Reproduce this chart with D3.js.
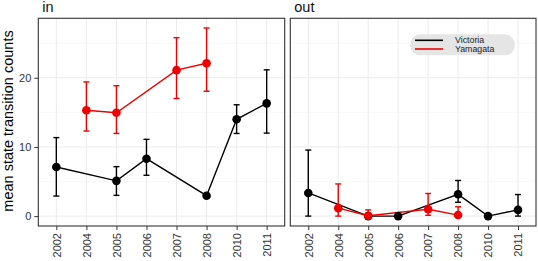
<!DOCTYPE html>
<html>
<head>
<meta charset="utf-8">
<script src="https://cdn.jsdelivr.net/npm/d3@7"></script>
<style>
  html, body { margin: 0; padding: 0; background: #fff; }
  svg { display: block; font-family: "Liberation Sans", Arial, Helvetica, sans-serif; }
</style>
</head>
<body>
<svg id="chart" width="538" height="261"></svg>
<script>
// ---- data ----
const years = ["2002", "2004", "2005", "2006", "2007", "2008", "2010", "2011"];
const yTicks = [0, 10, 20];
const yMinor = [5, 15, 25];
const panels = ["in", "out"];
const seriesNames = ["Victoria", "Yamagata"];

const victoriaYears = ["2002", "2005", "2006", "2008", "2010", "2011"];
const victoriaIn   = [7.1, 5.1, 8.3, 2.95, 14.0, 16.3];
const victoriaInLo = [2.9, 3.0, 5.9, 2.9, 11.95, 12.0];
const victoriaInHi = [11.35, 7.15, 11.1, 3.0, 16.1, 21.15];
const victoriaOut   = [3.35, 0, 0, 3.15, 0, 0.9];
const victoriaOutLo = [0, 0, 0, 2.0, 0, 0];
const victoriaOutHi = [9.55, 0, 0, 5.15, 0, 3.12];

const yamagataYears = ["2004", "2005", "2007", "2008"];
const yamagataIn   = [15.3, 14.95, 21.1, 22.1];
const yamagataInLo = [12.3, 11.95, 17.0, 18.05];
const yamagataInHi = [19.4, 18.85, 25.8, 27.2];
const yamagataOut   = [1.15, 0.05, 1.0, 0.15];
const yamagataOutLo = [0, 0, 0.12, 0];
const yamagataOutHi = [4.65, 0.9, 3.27, 1.35];

const colors = { Victoria: "#000000", Yamagata: "#ee0000" };

function rows(yrs, v, lo, hi) {
  return yrs.map((yr, i) => ({ year: yr, v: v[i], lo: lo[i], hi: hi[i] }));
}
const dataset = {
  in: { Victoria: rows(victoriaYears, victoriaIn, victoriaInLo, victoriaInHi),
        Yamagata: rows(yamagataYears, yamagataIn, yamagataInLo, yamagataInHi) },
  out: { Victoria: rows(victoriaYears, victoriaOut, victoriaOutLo, victoriaOutHi),
         Yamagata: rows(yamagataYears, yamagataOut, yamagataOutLo, yamagataOutHi) }
};

// ---- layout ----
const svg = d3.select("#chart");
const plotTop = 18.3, plotBottom = 226;
const panelX = { in: [38.3, 284.7], out: [290.3, 536] };
const yScale = d3.scaleLinear().domain([-1.43, 28.6]).range([plotBottom, plotTop]);

panels.forEach(p => {
  const [x0, x1] = panelX[p];
  const x = d3.scalePoint().domain(years).range([x0, x1]).padding(0.6);
  const g = svg.append("g");

  g.append("rect").attr("x", x0).attr("y", plotTop).attr("width", x1 - x0).attr("height", plotBottom - plotTop)
    .attr("fill", "#fff");
  g.selectAll(".ymin").data(yMinor).enter().append("line")
    .attr("x1", x0).attr("x2", x1).attr("y1", d => yScale(d)).attr("y2", d => yScale(d))
    .attr("stroke", "#f4f4f4").attr("stroke-width", 0.6);
  g.selectAll(".ymaj").data(yTicks).enter().append("line")
    .attr("x1", x0).attr("x2", x1).attr("y1", d => yScale(d)).attr("y2", d => yScale(d))
    .attr("stroke", "#ebebeb").attr("stroke-width", 1);
  g.selectAll(".xmaj").data(years).enter().append("line")
    .attr("x1", d => x(d)).attr("x2", d => x(d)).attr("y1", plotTop).attr("y2", plotBottom)
    .attr("stroke", "#ebebeb").attr("stroke-width", 1);

  const xAxis = d3.axisBottom(x).tickSize(4).tickPadding(3);
  const xa = g.append("g").attr("transform", `translate(0,${plotBottom})`).call(xAxis);
  xa.select(".domain").remove();
  xa.selectAll(".tick line").attr("stroke", "#333").attr("stroke-width", 1);
  xa.selectAll(".tick text")
    .attr("fill", "#333").attr("font-size", 11)
    .attr("transform", "rotate(-90)")
    .attr("x", -7).attr("y", 0).attr("dy", "0.35em")
    .attr("text-anchor", "end");

  if (p === "in") {
    const yAxis = d3.axisLeft(yScale).tickValues(yTicks).tickSize(4).tickPadding(3);
    const ya = g.append("g").attr("transform", `translate(${x0},0)`).call(yAxis);
    ya.select(".domain").remove();
    ya.selectAll(".tick line").attr("stroke", "#333");
    ya.selectAll(".tick text").attr("fill", "#333").attr("font-size", 11);
  }

  const line = d3.line().x(d => x(d.year)).y(d => yScale(d.v));
  seriesNames.forEach(s => {
    g.append("path").datum(dataset[p][s]).attr("d", line)
      .attr("fill", "none").attr("stroke", colors[s]).attr("stroke-width", 1.4);
  });
  seriesNames.forEach(s => {
    const d = dataset[p][s];
    const eb = g.append("g").attr("stroke", colors[s]).attr("stroke-width", 1.4);
    eb.selectAll(".v").data(d).enter().append("line")
      .attr("x1", r => x(r.year)).attr("x2", r => x(r.year))
      .attr("y1", r => yScale(r.lo)).attr("y2", r => yScale(r.hi));
    eb.selectAll(".t").data(d).enter().append("line")
      .attr("x1", r => x(r.year) - 3).attr("x2", r => x(r.year) + 3)
      .attr("y1", r => yScale(r.hi)).attr("y2", r => yScale(r.hi));
    eb.selectAll(".b").data(d).enter().append("line")
      .attr("x1", r => x(r.year) - 3).attr("x2", r => x(r.year) + 3)
      .attr("y1", r => yScale(r.lo)).attr("y2", r => yScale(r.lo));
    g.selectAll(".pt-" + s).data(d).enter().append("circle")
      .attr("cx", r => x(r.year)).attr("cy", r => yScale(r.v)).attr("r", 4.3)
      .attr("fill", colors[s]);
  });

  g.append("rect").attr("x", x0).attr("y", plotTop).attr("width", x1 - x0).attr("height", plotBottom - plotTop)
    .attr("fill", "none").attr("stroke", "#333").attr("stroke-width", 1.1);

  svg.append("text").attr("x", x0 + 4).attr("y", 11.5).attr("font-size", 14.5).attr("fill", "#111")
    .text(p);
});

svg.append("text")
  .attr("transform", "translate(13,121) rotate(-90)")
  .attr("text-anchor", "middle").attr("font-size", 14.5).attr("fill", "#000")
  .text("mean state transition counts");

const lg = svg.append("g");
lg.append("rect").attr("x", 410).attr("y", 34.3).attr("width", 105).attr("height", 21)
  .attr("rx", 10.5).attr("fill", "#e5e5e5");
seriesNames.forEach((s, i) => {
  const ly = 40.3 + i * 8.7;
  lg.append("line").attr("x1", 415).attr("x2", 443).attr("y1", ly).attr("y2", ly)
    .attr("stroke", colors[s]).attr("stroke-width", 1.6);
  lg.append("text").attr("x", 455).attr("y", ly).attr("dy", "0.35em")
    .attr("font-size", 8.8).attr("fill", "#222").text(s);
});
</script>
</body>
</html>
